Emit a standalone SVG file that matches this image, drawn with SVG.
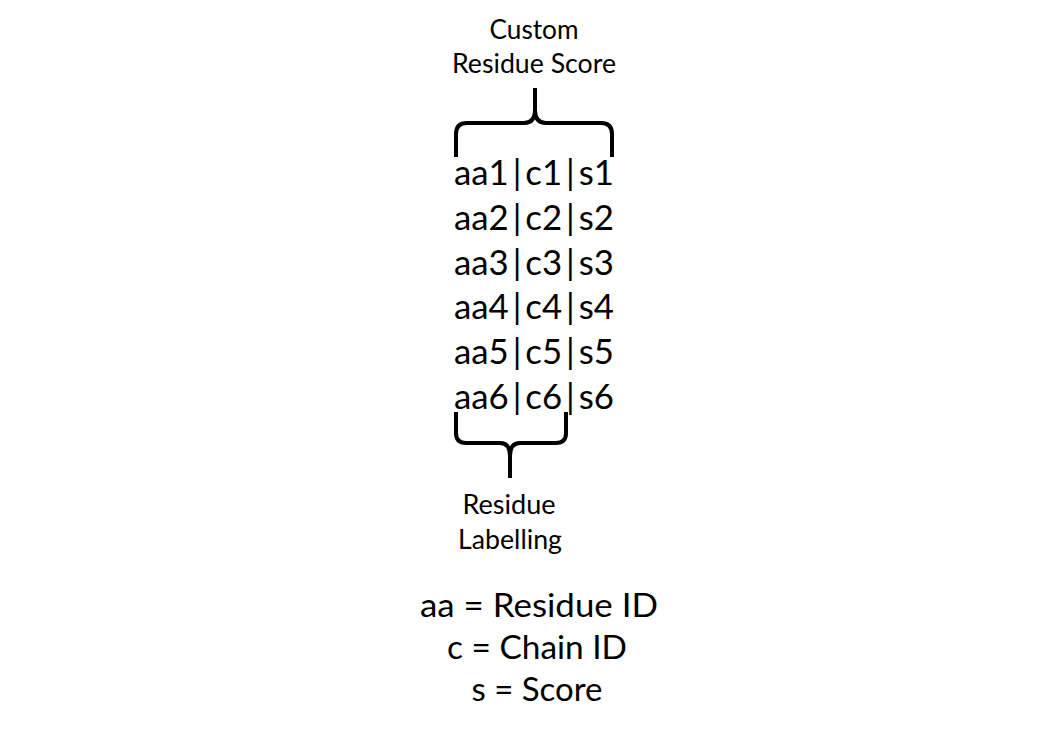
<svg xmlns="http://www.w3.org/2000/svg" width="1047" height="737" viewBox="0 0 1047 737">
<style>
text{font-family:"Lato","Open Sans","Liberation Sans",sans-serif;fill:#000;text-anchor:middle}
.lbl{font-size:26px}
.row{font-size:35px}
.leg{font-size:33px}
.brace{fill:none;stroke:#000;stroke-width:4;stroke-linejoin:round}
</style>
<rect width="1047" height="737" fill="#fff"/>
<g id="label-top">
<text class="lbl" x="534" y="39" textLength="89" lengthAdjust="spacingAndGlyphs">Custom</text>
<text class="lbl" x="534" y="73" textLength="164" lengthAdjust="spacingAndGlyphs">Residue Score</text>
</g>
<g id="connectors">
<path id="brace-top" class="brace" d="M456,157 L456,134 Q456,123 467,123 L524,123 Q535,123 535,110 L535,88 M535,110 Q535,123 546,123 L601,123 Q612,123 612,134 L612,157"/>
<path id="brace-bottom" class="brace" d="M456,412 L456,433 Q456,443 466,443 L500,443 Q510,443 510,456 L510,478 M510,456 Q510,443 520,443 L556,443 Q566,443 566,433 L566,412"/>
</g>
<g id="rows">
<text class="row" x="534" y="185" textLength="160" lengthAdjust="spacingAndGlyphs">aa1<tspan dx="4">|</tspan><tspan dx="4">c1</tspan><tspan dx="4">|</tspan><tspan dx="4">s1</tspan></text>
<text class="row" x="534" y="230" textLength="160" lengthAdjust="spacingAndGlyphs">aa2<tspan dx="4">|</tspan><tspan dx="4">c2</tspan><tspan dx="4">|</tspan><tspan dx="4">s2</tspan></text>
<text class="row" x="534" y="275" textLength="160" lengthAdjust="spacingAndGlyphs">aa3<tspan dx="4">|</tspan><tspan dx="4">c3</tspan><tspan dx="4">|</tspan><tspan dx="4">s3</tspan></text>
<text class="row" x="534" y="319" textLength="160" lengthAdjust="spacingAndGlyphs">aa4<tspan dx="4">|</tspan><tspan dx="4">c4</tspan><tspan dx="4">|</tspan><tspan dx="4">s4</tspan></text>
<text class="row" x="534" y="364" textLength="160" lengthAdjust="spacingAndGlyphs">aa5<tspan dx="4">|</tspan><tspan dx="4">c5</tspan><tspan dx="4">|</tspan><tspan dx="4">s5</tspan></text>
<text class="row" x="534" y="409" textLength="160" lengthAdjust="spacingAndGlyphs">aa6<tspan dx="4">|</tspan><tspan dx="4">c6</tspan><tspan dx="4">|</tspan><tspan dx="4">s6</tspan></text>
</g>
<g id="label-bottom">
<text class="lbl" x="509" y="514" textLength="93" lengthAdjust="spacingAndGlyphs">Residue</text>
<text class="lbl" x="510" y="549" textLength="104" lengthAdjust="spacingAndGlyphs">Labelling</text>
</g>
<g id="legend">
<text class="leg" x="539" y="617" textLength="238" lengthAdjust="spacingAndGlyphs">aa = Residue ID</text>
<text class="leg" x="537" y="659" textLength="180" lengthAdjust="spacingAndGlyphs">c = Chain ID</text>
<text class="leg" x="537" y="701" textLength="131" lengthAdjust="spacingAndGlyphs">s = Score</text>
</g>
</svg>
